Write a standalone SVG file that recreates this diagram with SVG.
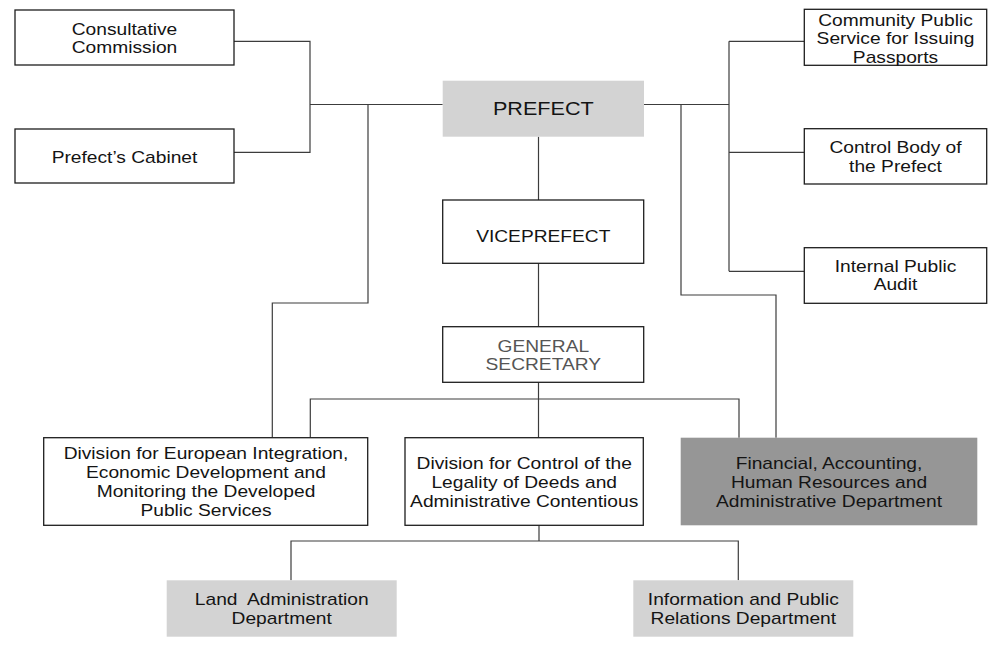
<svg xmlns="http://www.w3.org/2000/svg" width="989" height="645" viewBox="0 0 989 645">
  <style>
    .box { fill: #ffffff; stroke: #1e1e1e; stroke-width: 1.3; }
    .light { fill: #d3d3d3; stroke: none; }
    .dark { fill: #969696; stroke: none; }
    .link { fill: none; stroke: #3c3c3c; stroke-width: 1.2; }
    text { font-family: "Liberation Sans", Arial, sans-serif; font-size: 16px; fill: #141414; text-anchor: middle; }
    .big { font-size: 18px; }
    .soft { fill: #555555; }
  </style>
  <rect width="989" height="645" fill="#ffffff"/>

  <!-- connectors -->
  <g id="connectors">
    <path class="link" d="M234,41.3 H310 V152.3 H234"/>
    <path class="link" d="M310,104.5 H442.7"/>
    <path class="link" d="M368,104.5 V303 H272.3 V437.7"/>
    <path class="link" d="M644,104.5 H729"/>
    <path class="link" d="M729,41.3 V271.3"/>
    <path class="link" d="M729,41.3 H804.3 M729,152.3 H804.3 M729,271.3 H804.3"/>
    <path class="link" d="M681,104.5 V295 H776 V437.7"/>
    <path class="link" d="M538.5,136.7 V200"/>
    <path class="link" d="M538.5,263.3 V326.7"/>
    <path class="link" d="M538.5,382.3 V438"/>
    <path class="link" d="M310.3,437.7 V399 H739 V437.7"/>
    <path class="link" d="M539,525.3 V541 M291,580.3 V541 H738.3 V580.3"/>
  </g>

  <!-- nodes -->
  <g id="consultative-commission">
    <rect class="box" x="15" y="10" width="219" height="55"/>
    <text transform="translate(124.5 0) scale(1.2 1)"><tspan x="0" y="35">Consultative</tspan><tspan x="0" y="53.3">Commission</tspan></text>
  </g>

  <g id="prefects-cabinet">
    <rect class="box" x="15" y="129" width="219" height="54"/>
    <text transform="translate(124.5 0) scale(1.2 1)" x="0" y="163.3">Prefect’s Cabinet</text>
  </g>

  <g id="prefect">
    <rect class="light" x="442.7" y="80.7" width="201.3" height="56"/>
    <text class="big" transform="translate(543.3 0) scale(1.2 1)" x="0" y="115">PREFECT</text>
  </g>

  <g id="viceprefect">
    <rect class="box" x="442.7" y="200" width="201" height="63.3"/>
    <text transform="translate(543.3 0) scale(1.2 1)" x="0" y="242.3">VICEPREFECT</text>
  </g>

  <g id="general-secretary">
    <rect class="box" x="442.7" y="326.7" width="201" height="55.6"/>
    <text class="soft" transform="translate(543.3 0) scale(1.2 1)"><tspan x="0" y="352.3">GENERAL</tspan><tspan x="0" y="370">SECRETARY</tspan></text>
  </g>

  <g id="passports-service">
    <rect class="box" x="804.3" y="9.3" width="182.4" height="56"/>
    <text transform="translate(895.5 0) scale(1.2 1)"><tspan x="0" y="26">Community Public</tspan><tspan x="0" y="44.3">Service for Issuing</tspan><tspan x="0" y="62.7">Passports</tspan></text>
  </g>

  <g id="control-body">
    <rect class="box" x="804.3" y="128.7" width="182.4" height="55.3"/>
    <text transform="translate(895.5 0) scale(1.2 1)"><tspan x="0" y="153.3">Control Body of</tspan><tspan x="0" y="171.7">the Prefect</tspan></text>
  </g>

  <g id="internal-audit">
    <rect class="box" x="804.3" y="247.7" width="182.4" height="55.6"/>
    <text transform="translate(895.5 0) scale(1.2 1)"><tspan x="0" y="271.7">Internal Public</tspan><tspan x="0" y="290">Audit</tspan></text>
  </g>

  <g id="european-integration-division">
    <rect class="box" x="43.7" y="437.7" width="324" height="87.6"/>
    <text transform="translate(206 0) scale(1.2 1)"><tspan x="0" y="459">Division for European Integration,</tspan><tspan x="0" y="478.3">Economic Development and</tspan><tspan x="0" y="496.7">Monitoring the Developed</tspan><tspan x="0" y="515.7">Public Services</tspan></text>
  </g>

  <g id="legality-control-division">
    <rect class="box" x="405" y="437.7" width="238.3" height="87.6"/>
    <text transform="translate(524.2 0) scale(1.2 1)"><tspan x="0" y="469.3">Division for Control of the</tspan><tspan x="0" y="488.3">Legality of Deeds and</tspan><tspan x="0" y="507.3">Administrative Contentious</tspan></text>
  </g>

  <g id="financial-department">
    <rect class="dark" x="680.7" y="437.7" width="296.6" height="87.6"/>
    <text transform="translate(829 0) scale(1.2 1)"><tspan x="0" y="468.7">Financial, Accounting,</tspan><tspan x="0" y="488.3">Human Resources and</tspan><tspan x="0" y="506.7">Administrative Department</tspan></text>
  </g>

  <g id="land-administration">
    <rect class="light" x="166.7" y="580.3" width="230" height="56.4"/>
    <text xml:space="preserve" transform="translate(281.7 0) scale(1.2 1)"><tspan x="0" y="605.3">Land  Administration</tspan><tspan x="0" y="624">Department</tspan></text>
  </g>

  <g id="public-relations">
    <rect class="light" x="633.3" y="580.3" width="220" height="56.4"/>
    <text transform="translate(743.3 0) scale(1.2 1)"><tspan x="0" y="605.3">Information and Public</tspan><tspan x="0" y="624">Relations Department</tspan></text>
  </g>
</svg>
